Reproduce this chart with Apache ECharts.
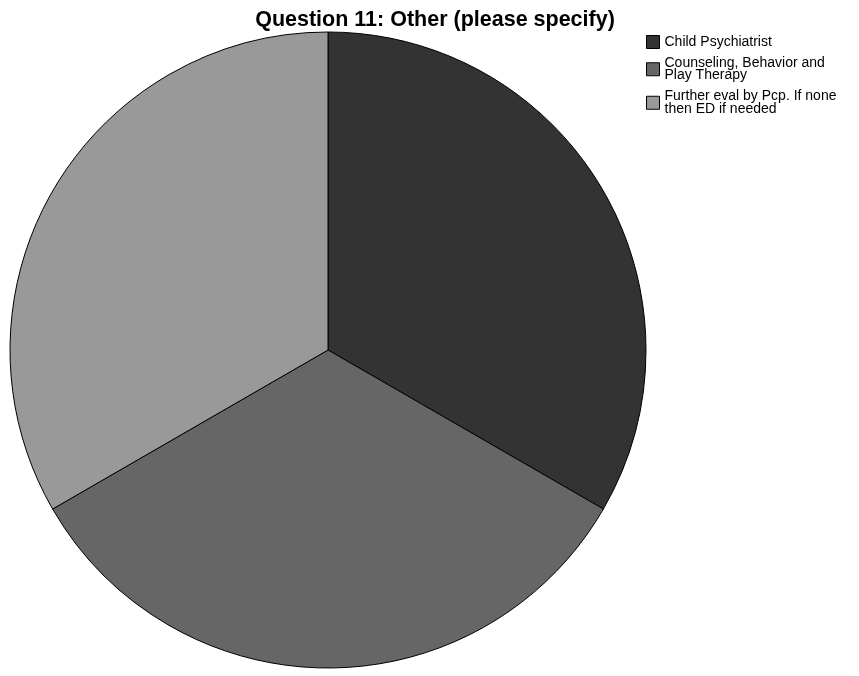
<!DOCTYPE html>
<html>
<head>
<meta charset="utf-8">
<script src="https://cdn.jsdelivr.net/npm/echarts@6/dist/echarts.min.js"></script>
<style>
  html, body { margin: 0; padding: 0; background: #fff; }
  #chart { width: 859px; height: 676px; }
</style>
</head>
<body>
<div id="chart"></div>
<script>
// Responses to "Other (please specify)"
const categories = [
  'Child Psychiatrist',
  'Counseling, Behavior and\nPlay Therapy',
  'Further eval by Pcp. If none\nthen ED if needed'
];
const counts = [1, 1, 1];
const sliceColors = ['#333333', '#666666', '#999999'];

const chart = echarts.init(document.getElementById('chart'), null, { renderer: 'canvas' });

chart.setOption({
  animation: false,
  backgroundColor: '#ffffff',
  title: {
    text: 'Question 11: Other (please specify)',
    left: 430,
    textAlign: 'center',
    top: 4,
    textStyle: {
      fontFamily: 'Liberation Sans, Arial, sans-serif',
      fontSize: 21.5,
      fontWeight: 'bold',
      color: '#000'
    }
  },
  legend: {
    orient: 'vertical',
    left: 646,
    top: 35,
    icon: 'rect',
    itemWidth: 13,
    itemHeight: 13,
    itemGap: 7,
    padding: 0,
    selectedMode: false,
    textStyle: {
      fontFamily: 'Liberation Sans, Arial, sans-serif',
      fontSize: 14,
      lineHeight: 12.5,
      color: '#000'
    },
    itemStyle: { borderColor: '#000', borderWidth: 1 },
    data: categories
  },
  series: [{
    type: 'pie',
    center: [328, 350],
    radius: [0, 318],
    startAngle: 90,
    clockwise: true,
    label: { show: false },
    labelLine: { show: false },
    emphasis: { disabled: true },
    itemStyle: { borderColor: '#000', borderWidth: 1 },
    data: categories.map((name, i) => ({
      name: name,
      value: counts[i],
      itemStyle: { color: sliceColors[i] }
    }))
  }]
});
</script>
</body>
</html>
